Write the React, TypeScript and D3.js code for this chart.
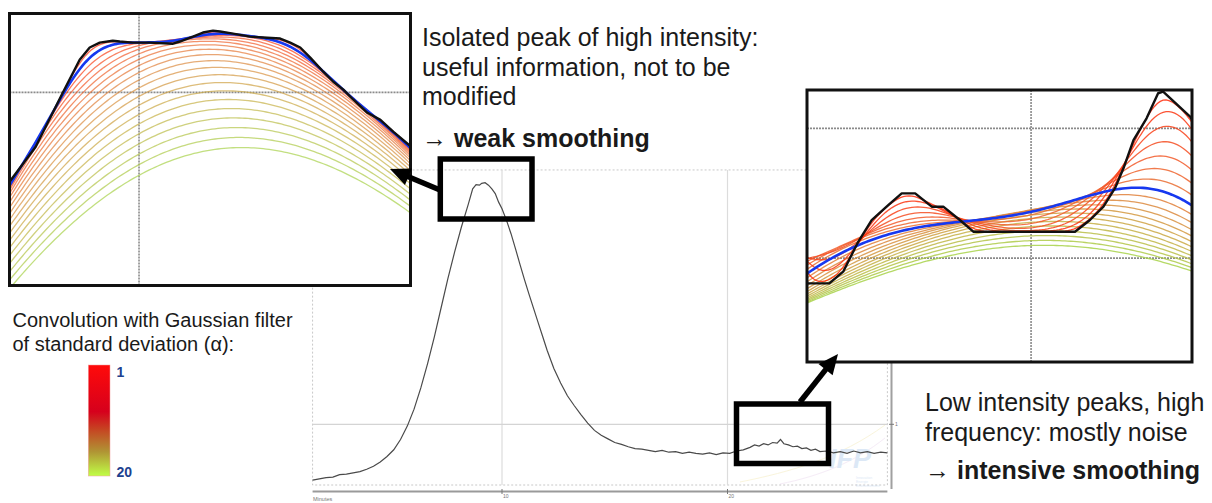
import React, { useMemo } from "react";
import * as d3 from "d3";

const W = 1212;
const H = 503;

// ---------- Main chromatogram (time in minutes, intensity in arbitrary units) ----------
const mainTime = [1.6, 1.9, 2.2, 2.5, 2.8, 3.1, 3.4, 3.7, 4.0, 4.3, 4.6, 4.9, 5.2, 5.5, 5.8, 6.1, 6.4, 6.7, 7.0, 7.3, 7.6, 7.9, 8.2, 8.5, 8.7, 8.85, 9.0, 9.1, 9.25, 9.4, 9.55, 9.7, 9.85, 10.0, 10.2, 10.4, 10.6, 10.8, 11.0, 11.2, 11.4, 11.6, 11.8, 12.0, 12.3, 12.6, 12.9, 13.2, 13.5, 13.8, 14.1, 14.4, 14.7, 15.0, 15.3, 15.6, 15.9, 16.2, 16.5, 16.8, 17.1, 17.4, 17.7, 18.0, 18.3, 18.6, 18.9, 19.2, 19.5, 19.8, 20.1, 20.4, 20.7, 21.0, 21.2, 21.4, 21.6, 21.8, 22.0, 22.2, 22.35, 22.5, 22.7, 22.9, 23.1, 23.3, 23.5, 23.7, 23.9, 24.1, 24.4, 24.7, 25.0, 25.3, 25.6, 25.9, 26.2, 26.5, 26.8, 27.09];
const mainSignal = [0.08, 0.1, 0.12, 0.13, 0.17, 0.18, 0.2, 0.22, 0.26, 0.31, 0.38, 0.47, 0.58, 0.75, 0.97, 1.25, 1.6, 2.0, 2.44, 2.92, 3.4, 3.84, 4.25, 4.62, 4.88, 4.95, 4.94, 4.97, 4.98, 4.94, 4.88, 4.8, 4.66, 4.55, 4.36, 4.14, 3.89, 3.63, 3.38, 3.14, 2.91, 2.68, 2.45, 2.22, 1.92, 1.68, 1.47, 1.31, 1.16, 1.02, 0.9, 0.82, 0.76, 0.7, 0.67, 0.63, 0.6, 0.59, 0.57, 0.55, 0.57, 0.54, 0.55, 0.52, 0.54, 0.52, 0.51, 0.53, 0.5, 0.53, 0.52, 0.56, 0.58, 0.62, 0.66, 0.64, 0.68, 0.66, 0.7, 0.69, 0.75, 0.68, 0.66, 0.63, 0.64, 0.6, 0.61, 0.57, 0.59, 0.55, 0.56, 0.53, 0.55, 0.52, 0.56, 0.53, 0.55, 0.52, 0.54, 0.53];
const mainXTicks = [10, 20];
const mainYGrid = [1];
const mainTimeExtent = [1.6, 27.09];
const mainSignalExtent = [0, 5.19];

// ---------- Gaussian filter standard deviations ----------
const alphas = [1, 2, 3, 4, 5, 6, 7, 8, 9, 10, 11, 12, 13, 14, 15, 16, 17, 18, 19, 20];

// ---------- Peak inset: raw trace (x and intensity in % of the inset window) ----------
// points outside 0..100 are the continuation of the peak beyond the window
const peakRawX = [-250, -150, -87.5, -50, -25, -10, -0.25, 6.5, 13.25, 17.5, 20, 22.5, 25.75, 27.5, 30.75, 35, 40.75, 42.5, 45.75, 48.25, 50.75, 52.5, 55.75, 60, 64.25, 67.5, 70, 72.5, 75, 78.25, 80.75, 83.25, 85.75, 89.25, 92.5, 95.75, 100.25, 110, 125, 150, 187.5, 237.5, 325, 425];
const peakRawV = [-480, -380, -220, -110, -35, 10, 37.6, 50.9, 70.8, 83.0, 87.5, 89.3, 90.0, 89.7, 89.3, 89.3, 88.9, 89.7, 91.5, 93.0, 93.7, 93.4, 92.6, 91.5, 91.1, 90.8, 89.3, 87.5, 83.8, 78.6, 74.9, 72.0, 68.3, 63.5, 60.9, 56.5, 50.9, 35, 8, -40, -112, -210, -350, -440];
const peakBlueAlpha = 2;
const peakGridX = [32.3];
const peakGridV = [71];

// ---------- Noise inset: raw trace (x and intensity in % of the inset window) ----------
const noiseRawX = [-104, -52, -31.2, -20.8, -14.3, -10.4, -7.3, -4.2, -2.1, 0.1, 5.8, 9.4, 13.3, 16.8, 21.1, 24.6, 28.1, 32.4, 35.4, 39.7, 43.2, 69.6, 73.5, 77.0, 80.0, 82.2, 84.8, 88.2, 91.2, 92.5, 99.5, 103.9, 107.8, 111.7, 116.9, 124.7, 137.7, 155.8, 207.8, 260];
const noiseRawV = [-45, -38, -22, 2, 30, 50, 60, 52, 35, 28.9, 28.9, 33.2, 44.2, 52.2, 57.7, 62.0, 62.0, 57.1, 57.1, 52.2, 47.9, 47.9, 52.2, 57.1, 63.9, 71.2, 81.6, 89.6, 98.8, 99.4, 90.2, 80, 64, 46, 28, 8, -12, -22, -30, -32];
const noiseBlueAlpha = 8;
const noiseGridX = [58.2];
const noiseGridV = [38.2, 85.9];

// ---------- Legend ----------
const legendLabels = ["1", "20"];
const legendStops = [
  { offset: 0, color: "#ff0a0a" },
  { offset: 0.42, color: "#d6001c" },
  { offset: 0.58, color: "#c64422" },
  { offset: 0.78, color: "#b09434" },
  { offset: 1, color: "#c0ff46" },
];

const FONT = "'Liberation Sans', Arial, Helvetica, sans-serif";

function gaussianSmooth(xs: number[], vs: number[], sigma: number, evalXs: number[]) {
  const h = 0.25;
  const x0 = xs[0];
  const x1 = xs[xs.length - 1];
  const n = Math.floor((x1 - x0) / h) + 1;
  const interp = d3.scaleLinear().domain(xs).range(vs);
  const grid = new Float64Array(n);
  for (let i = 0; i < n; i++) grid[i] = interp(x0 + i * h);
  return evalXs.map((x) => {
    const lo = Math.max(0, Math.floor((x - 4 * sigma - x0) / h));
    const hi = Math.min(n - 1, Math.ceil((x + 4 * sigma - x0) / h));
    let s = 0;
    let w = 0;
    for (let i = lo; i <= hi; i++) {
      const d = x0 + i * h - x;
      const g = Math.exp((-d * d) / (2 * sigma * sigma));
      s += g * grid[i];
      w += g;
    }
    return s / w;
  });
}

const alphaColor = d3
  .scaleLinear<string>()
  .domain([1, 5, 10, 15, 20])
  .range(["#ff2a0a", "#f25a2a", "#dc8a3e", "#c6b046", "#a8d24a"]);

type InsetProps = {
  id: string;
  x0: number;
  y0: number;
  w: number;
  h: number;
  rawX: number[];
  rawV: number[];
  sigmaStep: number;
  blueAlpha: number;
  gridX: number[];
  gridV: number[];
  curveOpacity: number;
};

function Inset({ id, x0, y0, w, h, rawX, rawV, sigmaStep, blueAlpha, gridX, gridV, curveOpacity }: InsetProps) {
  const xs = d3.scaleLinear().domain([0, 100]).range([x0, x0 + w]);
  const ys = d3.scaleLinear().domain([0, 100]).range([y0 + h, y0]);
  const evalXs = d3.range(-2, 102.01, 0.75);
  const curves = useMemo(
    () =>
      alphas.map((a) => ({
        a,
        vals: gaussianSmooth(rawX, rawV, a * sigmaStep, evalXs),
      })),
    [rawX, rawV, sigmaStep]
  );
  const line = d3
    .line<[number, number]>()
    .x((d) => xs(d[0]))
    .y((d) => ys(d[1]));
  const rawPts: [number, number][] = rawX.map((x, i) => [x, rawV[i]]);
  const blue = curves.find((c) => c.a === blueAlpha)!;
  return (
    <g>
      <defs>
        <clipPath id={id}>
          <rect x={x0} y={y0} width={w} height={h} />
        </clipPath>
      </defs>
      <rect x={x0} y={y0} width={w} height={h} fill="#fff" />
      <g clipPath={`url(#${id})`}>
        {gridV.map((v) => (
          <line key={"gv" + v} x1={x0} x2={x0 + w} y1={ys(v)} y2={ys(v)} stroke="#8a8a8a" strokeWidth={1.6} strokeDasharray="2 1" />
        ))}
        {gridX.map((v) => (
          <line key={"gx" + v} x1={xs(v)} x2={xs(v)} y1={y0} y2={y0 + h} stroke="#8a8a8a" strokeWidth={1.6} strokeDasharray="2 1" />
        ))}
        {curves
          .slice()
          .reverse()
          .map((c) => (
            <path
              key={c.a}
              d={line(evalXs.map((x, i) => [x, c.vals[i]]))!}
              fill="none"
              stroke={alphaColor(c.a)}
              strokeWidth={1.3}
              strokeOpacity={curveOpacity}
            />
          ))}
        <path d={line(evalXs.map((x, i) => [x, blue.vals[i]]))!} fill="none" stroke="#1638f0" strokeWidth={2.6} />
        <path d={line(rawPts)!} fill="none" stroke="#111" strokeWidth={2.4} strokeLinejoin="round" />
      </g>
      <rect x={x0} y={y0} width={w} height={h} fill="none" stroke="#111" strokeWidth={3} />
    </g>
  );
}

function Arrow({ x1, y1, x2, y2 }: { x1: number; y1: number; x2: number; y2: number }) {
  const dx = x2 - x1;
  const dy = y2 - y1;
  const L = Math.hypot(dx, dy);
  const ux = dx / L;
  const uy = dy / L;
  const hl = 20;
  const hw = 9;
  const bx = x2 - ux * hl;
  const by = y2 - uy * hl;
  const pts = [
    [x2, y2],
    [bx - uy * hw, by + ux * hw],
    [bx + uy * hw, by - ux * hw],
  ];
  return (
    <g>
      <line x1={x1} y1={y1} x2={bx + ux * 2} y2={by + uy * 2} stroke="#000" strokeWidth={5.5} />
      <polygon points={pts.map((p) => p.join(",")).join(" ")} fill="#000" />
    </g>
  );
}

export default function App() {
  const x = d3.scaleLinear().domain([10, 20]).range([502, 727.5]);
  const y = d3.scaleLinear().domain([0, 1]).range([485, 424.3]);
  const left = x(mainTimeExtent[0]);
  const right = x(mainTimeExtent[1]);
  const top = y(mainSignalExtent[1]);
  const bottom = y(mainSignalExtent[0]);
  const mainLine = d3
    .line<number>()
    .x((_, i) => x(mainTime[i]))
    .y((d) => y(d));

  return (
    <svg width={W} height={H} style={{ position: "absolute", left: 0, top: 0, background: "#fff" }} fontFamily={FONT}>
      <rect x={0} y={0} width={W} height={H} fill="#fff" />

      {/* ---- Main chromatogram ---- */}
      <g>
        <rect x={left} y={top} width={right - left} height={bottom - top} fill="none" stroke="#c8c8c8" strokeWidth={1} strokeDasharray="2 2" />
        {mainXTicks.map((t) => (
          <line key={t} x1={x(t)} x2={x(t)} y1={top} y2={bottom} stroke="#dcdcdc" strokeWidth={1.2} />
        ))}
        {mainYGrid.map((v) => (
          <line key={v} x1={left} x2={right} y1={y(v)} y2={y(v)} stroke="#d4d4d4" strokeWidth={1.2} />
        ))}
        {/* watermark */}
        <g opacity={0.4}>
          <path d="M740,482 C790,472 840,458 885,425" fill="none" stroke="#f2e6a8" strokeWidth={1} />
          <path d="M780,484 C820,476 855,462 885,438" fill="none" stroke="#e8d0ec" strokeWidth={1} />
          <text x={829} y={468} fontSize={27} fontWeight="bold" fontStyle="italic" fill="#a9c8ea">IFP</text>
          <text x={856} y={478.5} fontSize={3.5} fill="#a9c8ea">Innovation</text>
          <text x={856} y={482.5} fontSize={3.5} fill="#a9c8ea">Energie</text>
          <text x={856} y={486.5} fontSize={3.5} fill="#a9c8ea">Environnement</text>
        </g>
        <path d={mainLine(mainSignal)!} fill="none" stroke="#4a4a4a" strokeWidth={1.2} />
        {/* bottom axis */}
        <line x1={left} x2={right} y1={491.5} y2={491.5} stroke="#9a9a9a" strokeWidth={2} />
        {mainXTicks.map((t) => (
          <g key={"tk" + t}>
            <line x1={x(t)} x2={x(t)} y1={489} y2={494} stroke="#777" strokeWidth={1} />
            <text x={x(t) + 1} y={498} fontSize={5} fill="#777">{t}</text>
          </g>
        ))}
        <text x={313} y={501} fontSize={5.5} fill="#777">Minutes</text>
        {/* right axis */}
        <line x1={891.5} x2={891.5} y1={top} y2={489} stroke="#a0a0a0" strokeWidth={2} />
        {mainYGrid.map((v) => (
          <g key={"ry" + v}>
            <line x1={889} x2={894} y1={y(v)} y2={y(v)} stroke="#777" strokeWidth={1} />
            <text x={895} y={y(v) + 2} fontSize={5} fill="#777">{v}</text>
          </g>
        ))}
      </g>

      {/* ---- Insets ---- */}
      <Inset
        id="clipPeak"
        x0={9.5}
        y0={13.5}
        w={401}
        h={272}
        rawX={peakRawX}
        rawV={peakRawV}
        sigmaStep={2.5}
        blueAlpha={peakBlueAlpha}
        gridX={peakGridX}
        gridV={peakGridV}
        curveOpacity={0.7}
      />
      <Inset
        id="clipNoise"
        x0={807}
        y0={90}
        w={385}
        h={272}
        rawX={noiseRawX}
        rawV={noiseRawV}
        sigmaStep={2.6}
        blueAlpha={noiseBlueAlpha}
        gridX={noiseGridX}
        gridV={noiseGridV}
        curveOpacity={0.85}
      />

      {/* ---- Zoom boxes & arrows ---- */}
      <rect x={440.3} y={159} width={91.7} height={60} fill="none" stroke="#000" strokeWidth={5.5} />
      <rect x={736.5} y={404} width={92} height={59.5} fill="none" stroke="#000" strokeWidth={5.5} />
      <Arrow x1={440} y1={190} x2={390} y2={169} />
      <Arrow x1={800} y1={402} x2={838} y2={354} />

      {/* ---- Texts ---- */}
      <g fontSize={25} fill="#1a1a1a">
        <text x={422} y={46}>Isolated peak of high intensity:</text>
        <text x={422} y={75.5}>useful information, not to be</text>
        <text x={422} y={105}>modified</text>
        <text x={422} y={147}>
          → <tspan fontWeight="bold">weak smoothing</tspan>
        </text>
        <text x={925} y={411}>Low intensity peaks, high</text>
        <text x={925} y={441}>frequency: mostly noise</text>
        <text x={925} y={479}>
          → <tspan fontWeight="bold">intensive smoothing</tspan>
        </text>
      </g>
      <g fontSize={20} fill="#1a1a1a">
        <text x={12.5} y={327}>Convolution with Gaussian filter</text>
        <text x={12.5} y={350.5}>of standard deviation (α):</text>
      </g>

      {/* ---- Legend colour bar ---- */}
      <defs>
        <linearGradient id="alphaGrad" x1="0" y1="0" x2="0" y2="1">
          {legendStops.map((s) => (
            <stop key={s.offset} offset={s.offset} stopColor={s.color} />
          ))}
        </linearGradient>
      </defs>
      <rect x={88.3} y={365} width={21.7} height={111} fill="url(#alphaGrad)" stroke="#f4a0a0" strokeWidth={0.5} />
      <text x={116.5} y={376.5} fontSize={14} fontWeight="bold" fill="#21418f">{legendLabels[0]}</text>
      <text x={116.5} y={476.5} fontSize={14} fontWeight="bold" fill="#21418f">{legendLabels[1]}</text>
    </svg>
  );
}
